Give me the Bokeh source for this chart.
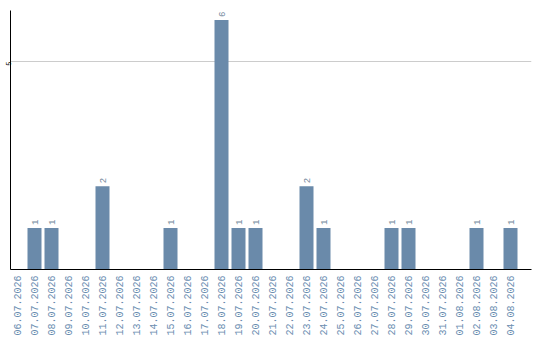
import math
from bokeh.plotting import figure
from bokeh.models import ColumnDataSource, Range1d, FixedTicker
from bokeh.core.properties import value
from bokeh.embed import file_html
from bokeh.resources import INLINE

dates = [
    "06.07.2026", "07.07.2026", "08.07.2026", "09.07.2026", "10.07.2026",
    "11.07.2026", "12.07.2026", "13.07.2026", "14.07.2026", "15.07.2026",
    "16.07.2026", "17.07.2026", "18.07.2026", "19.07.2026", "20.07.2026",
    "21.07.2026", "22.07.2026", "23.07.2026", "24.07.2026", "25.07.2026",
    "26.07.2026", "27.07.2026", "28.07.2026", "29.07.2026", "30.07.2026",
    "31.07.2026", "01.08.2026", "02.08.2026", "03.08.2026", "04.08.2026",
]
counts = [0, 1, 1, 0, 0, 2, 0, 0, 0, 1, 0, 0, 6, 1, 1, 0, 0, 2, 1, 0,
          0, 0, 1, 1, 0, 0, 0, 1, 0, 1]
y_ticks = [5]

BAR = "#6a8aaa"
FONT = "Liberation Mono"

idx = list(range(len(dates)))

# plot frame: 17 px per day, first bar 7 px from the axis
p = figure(x_range=Range1d(-7 / 17, 514 / 17), y_range=Range1d(0, 6.226),
           width=540, height=340, output_backend="svg", toolbar_location=None,
           min_border_left=0, min_border_right=9, min_border_top=10,
           min_border_bottom=71)
p.outline_line_color = None
p.background_fill_color = "white"

p.vbar(x=idx, top=counts, width=14 / 17, fill_color=BAR, line_color=None)

# value labels above the non-empty bars
lsrc = ColumnDataSource(dict(
    x=[i for i, v in zip(idx, counts) if v],
    c=[v for v in counts if v],
    t=[str(v) for v in counts if v]))
p.text(x="x", y="c", text="t", source=lsrc, angle=math.pi / 2,
       text_align="left", text_baseline="middle", y_offset=-3,
       text_font=value(FONT), text_font_size="9px", text_color="#72889c")

p.xgrid.grid_line_color = None
p.ygrid.grid_line_color = "#cccccc"
p.ygrid.ticker = FixedTicker(ticks=y_ticks)

p.yaxis.ticker = FixedTicker(ticks=y_ticks)
p.yaxis.major_label_orientation = math.pi / 2
p.yaxis.major_label_text_font = FONT
p.yaxis.major_label_text_font_size = "7px"
p.yaxis.major_label_text_color = "black"
p.yaxis.major_tick_out = 0
p.yaxis.major_tick_in = 0
p.yaxis.minor_tick_line_color = None
p.yaxis.major_label_standoff = 2
p.yaxis.axis_line_color = "black"

p.xaxis.ticker = FixedTicker(ticks=idx)
p.xaxis.major_label_overrides = {i: d for i, d in zip(idx, dates)}
p.xaxis.major_label_orientation = math.pi / 2
p.xaxis.major_label_text_font = FONT
p.xaxis.major_label_text_font_size = "10px"
p.xaxis.major_label_text_color = "#6a8db0"
p.xaxis.major_tick_out = 0
p.xaxis.major_tick_in = 0
p.xaxis.minor_tick_line_color = None
p.xaxis.major_label_standoff = 6
p.xaxis.axis_line_color = "black"

open("out.html", "w").write(file_html(p, INLINE))
